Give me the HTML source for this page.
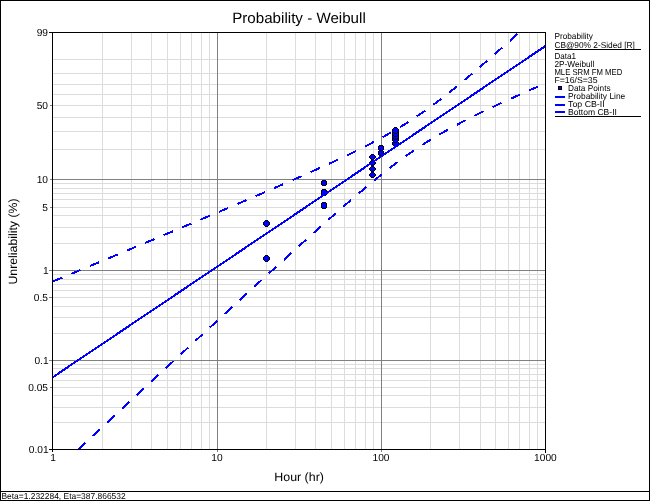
<!DOCTYPE html>
<html><head><meta charset="utf-8"><style>
html,body{margin:0;padding:0;background:#fff;width:650px;height:501px;overflow:hidden}
svg{display:block;will-change:transform}
text{font-family:"Liberation Sans",sans-serif;fill:#000;text-rendering:geometricPrecision}
</style></head><body>
<svg width="650" height="501" viewBox="0 0 650 501">
<path d="M102.5 33V449M131.5 33V449M151.5 33V449M167.5 33V449M180.5 33V449M191.5 33V449M201.5 33V449M209.5 33V449M266.5 33V449M295.5 33V449M315.5 33V449M331.5 33V449M344.5 33V449M355.5 33V449M365.5 33V449M373.5 33V449M430.5 33V449M459.5 33V449M480.5 33V449M495.5 33V449M508.5 33V449M519.5 33V449M529.5 33V449M537.5 33V449M53 59.5H545M53 73.5H545M53 84.5H545M53 94.5H545M53 105.5H545M53 117.5H545M53 131.5H545M53 149.5H545M53 183.5H545M53 188.5H545M53 193.5H545M53 199.5H545M53 207.5H545M53 215.5H545M53 227.5H545M53 243.5H545M53 274.5H545M53 279.5H545M53 284.5H545M53 290.5H545M53 297.5H545M53 306.5H545M53 317.5H545M53 333.5H545M53 364.5H545M53 368.5H545M53 374.5H545M53 380.5H545M53 387.5H545M53 395.5H545M53 407.5H545M53 422.5H545" stroke="#dcdcdc" stroke-width="1" fill="none"/>
<path d="M217.5 33V449M381.5 33V449M53 179.5H545M53 270.5H545M53 360.5H545" stroke="#808080" stroke-width="1" fill="none"/>
<path d="M49 32.5H546M49 449.5H546M52.5 32V452M545.5 32V453" stroke="#000" stroke-width="1" fill="none" shape-rendering="crispEdges"/>
<path d="M50 105.5H52M50 179.5H52M50 207.5H52M49 270.5H52M49 297.5H52M49 360.5H52M50 387.5H52M217.5 450V452M381.5 450V452" stroke="#808080" stroke-width="1" fill="none" shape-rendering="crispEdges"/>
<text x="48.00" y="36.3" text-anchor="end" font-size="10.2">99</text>
<text x="48.00" y="109.3" text-anchor="end" font-size="10.2">50</text>
<text x="48.00" y="183.3" text-anchor="end" font-size="10.2">10</text>
<text x="48.00" y="211.3" text-anchor="end" font-size="10.2">5</text>
<text x="48.60" y="274.3" text-anchor="end" font-size="10.2">1</text>
<text x="48.00" y="301.3" text-anchor="end" font-size="10.2">0.5</text>
<text x="48.60" y="364.3" text-anchor="end" font-size="10.2">0.1</text>
<text x="48.00" y="391.3" text-anchor="end" font-size="10.2">0.05</text>
<text x="48.60" y="453.3" text-anchor="end" font-size="10.2">0.01</text>
<text x="53.00" y="461" text-anchor="middle" font-size="10.2">1</text>
<text x="217.00" y="461" text-anchor="middle" font-size="10.2">10</text>
<text x="381.00" y="461" text-anchor="middle" font-size="10.2">100</text>
<text x="545.40" y="461" text-anchor="middle" font-size="10.2">1000</text>
<clipPath id="pc"><rect x="53" y="33" width="492" height="416"/></clipPath>
<g shape-rendering="crispEdges"><path fill="#000" d="M263 257h7v3h-7zM264 256h5v5h-5zM265 255h3v7h-3z"/><path fill="#0000ff" d="M264 257h5v3h-5zM265 256h3v5h-3z"/><path fill="#000" d="M263 222h7v3h-7zM264 221h5v5h-5zM265 220h3v7h-3z"/><path fill="#0000ff" d="M264 222h5v3h-5zM265 221h3v5h-3z"/><path fill="#000" d="M321 203h6v5h-6zM322 202h4v7h-4z"/><path fill="#0000ff" d="M322 203h4v5h-4z"/><path fill="#000" d="M321 190h6v5h-6zM322 189h4v7h-4z"/><path fill="#0000ff" d="M322 190h4v5h-4z"/><path fill="#000" d="M321 181h6v4h-6zM322 180h4v6h-4z"/><path fill="#0000ff" d="M322 181h4v4h-4z"/><path fill="#000" d="M369 174h7v2h-7zM370 173h5v4h-5zM371 172h3v6h-3z"/><path fill="#0000ff" d="M370 174h5v2h-5zM371 173h3v4h-3z"/><path fill="#000" d="M369 168h7v2h-7zM370 167h5v4h-5zM371 166h3v6h-3z"/><path fill="#0000ff" d="M370 168h5v2h-5zM371 167h3v4h-3z"/><path fill="#000" d="M369 162h7v2h-7zM370 161h5v4h-5zM371 160h3v6h-3z"/><path fill="#0000ff" d="M370 162h5v2h-5zM371 161h3v4h-3z"/><path fill="#000" d="M369 156h7v2h-7zM370 155h5v4h-5zM371 154h3v6h-3z"/><path fill="#0000ff" d="M370 156h5v2h-5zM371 155h3v4h-3z"/><path fill="#000" d="M378 151h6v4h-6zM379 150h4v6h-4z"/><path fill="#0000ff" d="M379 151h4v4h-4z"/><path fill="#000" d="M378 146h6v4h-6zM379 145h4v6h-4z"/><path fill="#0000ff" d="M379 146h4v4h-4z"/><path fill="#000" d="M392 142h7v3h-7zM393 141h5v5h-5zM394 140h3v7h-3z"/><path fill="#0000ff" d="M393 142h5v3h-5zM394 141h3v5h-3z"/><path fill="#000" d="M392 138h7v3h-7zM393 137h5v5h-5zM394 136h3v7h-3z"/><path fill="#0000ff" d="M393 138h5v3h-5zM394 137h3v5h-3z"/><path fill="#000" d="M392 135h7v3h-7zM393 134h5v5h-5zM394 133h3v7h-3z"/><path fill="#0000ff" d="M393 135h5v3h-5zM394 134h3v5h-3z"/><path fill="#000" d="M392 132h7v3h-7zM393 131h5v5h-5zM394 130h3v7h-3z"/><path fill="#0000ff" d="M393 132h5v3h-5zM394 131h3v5h-3z"/><path fill="#000" d="M392 129h7v3h-7zM393 128h5v5h-5zM394 127h3v7h-3z"/><path fill="#0000ff" d="M393 129h5v3h-5zM394 128h3v5h-3z"/></g>
<g clip-path="url(#pc)" fill="none" stroke="#0000ff" stroke-width="2" shape-rendering="crispEdges">
<path d="M52.31 377.53 L545.50 45.96"/>
<path d="M52.31 281.70 L53.31 281.29 L54.31 280.87 L55.31 280.45 L56.31 280.04 L57.31 279.62 L58.31 279.20 L59.31 278.79 L60.31 278.37 L61.31 277.96 L62.31 277.54 L63.31 277.12 L64.31 276.71 L65.31 276.29 L66.31 275.87 L67.31 275.46 L68.31 275.04 L69.31 274.62 L70.31 274.21 L71.31 273.79 L72.31 273.37 L73.31 272.96 L74.31 272.54 L75.31 272.12 L76.31 271.71 L77.31 271.29 L78.31 270.87 L79.31 270.46 L80.31 270.04 L81.31 269.62 L82.31 269.21 L83.31 268.79 L84.31 268.37 L85.31 267.95 L86.31 267.54 L87.31 267.12 L88.31 266.70 L89.31 266.29 L90.31 265.87 L91.31 265.45 L92.31 265.03 L93.31 264.62 L94.31 264.20 L95.31 263.78 L96.31 263.37 L97.31 262.95 L98.31 262.53 L99.31 262.11 L100.31 261.70 L101.31 261.28 L102.31 260.86 L103.31 260.44 L104.31 260.03 L105.31 259.61 L106.31 259.19 L107.31 258.77 L108.31 258.36 L109.31 257.94 L110.31 257.52 L111.31 257.10 L112.31 256.68 L113.31 256.27 L114.31 255.85 L115.31 255.43 L116.31 255.01 L117.31 254.60 L118.31 254.18 L119.31 253.76 L120.31 253.34 L121.31 252.92 L122.31 252.51 L123.31 252.09 L124.31 251.67 L125.31 251.25 L126.31 250.83 L127.31 250.41 L128.31 250.00 L129.31 249.58 L130.31 249.16 L131.31 248.74 L132.31 248.32 L133.31 247.90 L134.31 247.48 L135.31 247.07 L136.31 246.65 L137.31 246.23 L138.31 245.81 L139.31 245.39 L140.31 244.97 L141.31 244.55 L142.31 244.13 L143.31 243.72 L144.31 243.30 L145.31 242.88 L146.31 242.46 L147.31 242.04 L148.31 241.62 L149.31 241.20 L150.31 240.78 L151.31 240.36 L152.31 239.94 L153.31 239.52 L154.31 239.10 L155.31 238.68 L156.31 238.26 L157.31 237.84 L158.31 237.42 L159.31 237.01 L160.31 236.59 L161.31 236.17 L162.31 235.75 L163.31 235.33 L164.31 234.91 L165.31 234.49 L166.31 234.07 L167.31 233.64 L168.31 233.22 L169.31 232.80 L170.31 232.38 L171.31 231.96 L172.31 231.54 L173.31 231.12 L174.31 230.70 L175.31 230.28 L176.31 229.86 L177.31 229.44 L178.31 229.02 L179.31 228.60 L180.31 228.18 L181.31 227.76 L182.31 227.33 L183.31 226.91 L184.31 226.49 L185.31 226.07 L186.31 225.65 L187.31 225.23 L188.31 224.81 L189.31 224.38 L190.31 223.96 L191.31 223.54 L192.31 223.12 L193.31 222.70 L194.31 222.27 L195.31 221.85 L196.31 221.43 L197.31 221.01 L198.31 220.58 L199.31 220.16 L200.31 219.74 L201.31 219.32 L202.31 218.89 L203.31 218.47 L204.31 218.05 L205.31 217.63 L206.31 217.20 L207.31 216.78 L208.31 216.36 L209.31 215.93 L210.31 215.51 L211.31 215.09 L212.31 214.66 L213.31 214.24 L214.31 213.81 L215.31 213.39 L216.31 212.97 L217.31 212.54 L218.31 212.12 L219.31 211.69 L220.31 211.27 L221.31 210.84 L222.31 210.42 L223.31 209.99 L224.31 209.57 L225.31 209.14 L226.31 208.72 L227.31 208.29 L228.31 207.87 L229.31 207.44 L230.31 207.02 L231.31 206.59 L232.31 206.16 L233.31 205.74 L234.31 205.31 L235.31 204.88 L236.31 204.46 L237.31 204.03 L238.31 203.60 L239.31 203.18 L240.31 202.75 L241.31 202.32 L242.31 201.89 L243.31 201.47 L244.31 201.04 L245.31 200.61 L246.31 200.18 L247.31 199.75 L248.31 199.33 L249.31 198.90 L250.31 198.47 L251.31 198.04 L252.31 197.61 L253.31 197.18 L254.31 196.75 L255.31 196.32 L256.31 195.89 L257.31 195.46 L258.31 195.03 L259.31 194.60 L260.31 194.17 L261.31 193.74 L262.31 193.31 L263.31 192.88 L264.31 192.44 L265.31 192.01 L266.31 191.58 L267.31 191.15 L268.31 190.72 L269.31 190.28 L270.31 189.85 L271.31 189.42 L272.31 188.98 L273.31 188.55 L274.31 188.11 L275.31 187.68 L276.31 187.25 L277.31 186.81 L278.31 186.38 L279.31 185.94 L280.31 185.50 L281.31 185.07 L282.31 184.63 L283.31 184.19 L284.31 183.76 L285.31 183.32 L286.31 182.88 L287.31 182.44 L288.31 182.01 L289.31 181.57 L290.31 181.13 L291.31 180.69 L292.31 180.25 L293.31 179.81 L294.31 179.37 L295.31 178.93 L296.31 178.49 L297.31 178.04 L298.31 177.60 L299.31 177.16 L300.31 176.72 L301.31 176.27 L302.31 175.83 L303.31 175.39 L304.31 174.94 L305.31 174.50 L306.31 174.05 L307.31 173.60 L308.31 173.16 L309.31 172.71 L310.31 172.26 L311.31 171.81 L312.31 171.36 L313.31 170.91 L314.31 170.46 L315.31 170.01 L316.31 169.56 L317.31 169.11 L318.31 168.66 L319.31 168.21 L320.31 167.75 L321.31 167.30 L322.31 166.84 L323.31 166.39 L324.31 165.93 L325.31 165.47 L326.31 165.01 L327.31 164.56 L328.31 164.10 L329.31 163.64 L330.31 163.17 L331.31 162.71 L332.31 162.25 L333.31 161.79 L334.31 161.32 L335.31 160.86 L336.31 160.39 L337.31 159.92 L338.31 159.45 L339.31 158.98 L340.31 158.51 L341.31 158.04 L342.31 157.57 L343.31 157.09 L344.31 156.62 L345.31 156.14 L346.31 155.67 L347.31 155.19 L348.31 154.71 L349.31 154.23 L350.31 153.74 L351.31 153.26 L352.31 152.78 L353.31 152.29 L354.31 151.80 L355.31 151.31 L356.31 150.82 L357.31 150.33 L358.31 149.83 L359.31 149.34 L360.31 148.84 L361.31 148.34 L362.31 147.84 L363.31 147.34 L364.31 146.83 L365.31 146.33 L366.31 145.82 L367.31 145.31 L368.31 144.79 L369.31 144.28 L370.31 143.76 L371.31 143.24 L372.31 142.72 L373.31 142.20 L374.31 141.67 L375.31 141.15 L376.31 140.62 L377.31 140.08 L378.31 139.55 L379.31 139.01 L380.31 138.47 L381.31 137.92 L382.31 137.38 L383.31 136.83 L384.31 136.28 L385.31 135.72 L386.31 135.16 L387.31 134.60 L388.31 134.04 L389.31 133.47 L390.31 132.90 L391.31 132.33 L392.31 131.75 L393.31 131.17 L394.31 130.58 L395.31 130.00 L396.31 129.40 L397.31 128.81 L398.31 128.21 L399.31 127.61 L400.31 127.00 L401.31 126.39 L402.31 125.78 L403.31 125.16 L404.31 124.54 L405.31 123.91 L406.31 123.28 L407.31 122.65 L408.31 122.01 L409.31 121.37 L410.31 120.72 L411.31 120.07 L412.31 119.42 L413.31 118.76 L414.31 118.10 L415.31 117.43 L416.31 116.76 L417.31 116.08 L418.31 115.40 L419.31 114.72 L420.31 114.03 L421.31 113.34 L422.31 112.64 L423.31 111.94 L424.31 111.24 L425.31 110.53 L426.31 109.82 L427.31 109.10 L428.31 108.38 L429.31 107.65 L430.31 106.93 L431.31 106.19 L432.31 105.46 L433.31 104.72 L434.31 103.97 L435.31 103.23 L436.31 102.47 L437.31 101.72 L438.31 100.96 L439.31 100.20 L440.31 99.43 L441.31 98.67 L442.31 97.89 L443.31 97.12 L444.31 96.34 L445.31 95.56 L446.31 94.77 L447.31 93.98 L448.31 93.19 L449.31 92.40 L450.31 91.60 L451.31 90.80 L452.31 90.00 L453.31 89.20 L454.31 88.39 L455.31 87.58 L456.31 86.77 L457.31 85.95 L458.31 85.13 L459.31 84.31 L460.31 83.49 L461.31 82.67 L462.31 81.84 L463.31 81.01 L464.31 80.18 L465.31 79.35 L466.31 78.51 L467.31 77.67 L468.31 76.84 L469.31 76.00 L470.31 75.15 L471.31 74.31 L472.31 73.46 L473.31 72.61 L474.31 71.76 L475.31 70.91 L476.31 70.06 L477.31 69.21 L478.31 68.35 L479.31 67.49 L480.31 66.63 L481.31 65.77 L482.31 64.91 L483.31 64.05 L484.31 63.19 L485.31 62.32 L486.31 61.45 L487.31 60.59 L488.31 59.72 L489.31 58.85 L490.31 57.98 L491.31 57.10 L492.31 56.23 L493.31 55.36 L494.31 54.48 L495.31 53.60 L496.31 52.73 L497.31 51.85 L498.31 50.97 L499.31 50.09 L500.31 49.21 L501.31 48.32 L502.31 47.44 L503.31 46.56 L504.31 45.67 L505.31 44.79 L506.31 43.90 L507.31 43.01 L508.31 42.13 L509.31 41.24 L510.31 40.35 L511.31 39.46 L512.31 38.57 L513.31 37.68 L514.31 36.79 L515.31 35.89 L516.31 35.00 L517.31 34.11 L518.31 33.21 L519.31 32.32 L520.31 31.42 L521.31 30.53 L522.31 29.63 L523.31 28.73 L524.31 27.84 L525.31 26.94 L526.31 26.04 L527.31 25.14 L528.31 24.24 L529.31 23.34 L530.31 22.44 L531.31 21.54 L532.31 20.64 L533.31 19.74 L534.31 18.83 L535.31 17.93 L536.31 17.03 L537.31 16.12 L538.31 15.22 L539.31 14.32 L540.31 13.41 L541.31 12.51 L542.31 11.60 L543.31 10.70 L544.31 9.79 L545.31 8.88" stroke-dasharray="10 10" stroke-dashoffset="-0.67"/>
<path d="M52.31 473.36 L53.31 472.43 L54.31 471.50 L55.31 470.57 L56.31 469.64 L57.31 468.72 L58.31 467.79 L59.31 466.86 L60.31 465.93 L61.31 465.00 L62.31 464.08 L63.31 463.15 L64.31 462.22 L65.31 461.29 L66.31 460.36 L67.31 459.44 L68.31 458.51 L69.31 457.58 L70.31 456.65 L71.31 455.72 L72.31 454.80 L73.31 453.87 L74.31 452.94 L75.31 452.01 L76.31 451.08 L77.31 450.16 L78.31 449.23 L79.31 448.30 L80.31 447.37 L81.31 446.45 L82.31 445.52 L83.31 444.59 L84.31 443.66 L85.31 442.73 L86.31 441.81 L87.31 440.88 L88.31 439.95 L89.31 439.02 L90.31 438.10 L91.31 437.17 L92.31 436.24 L93.31 435.32 L94.31 434.39 L95.31 433.46 L96.31 432.53 L97.31 431.61 L98.31 430.68 L99.31 429.75 L100.31 428.82 L101.31 427.90 L102.31 426.97 L103.31 426.04 L104.31 425.12 L105.31 424.19 L106.31 423.26 L107.31 422.33 L108.31 421.41 L109.31 420.48 L110.31 419.55 L111.31 418.63 L112.31 417.70 L113.31 416.77 L114.31 415.85 L115.31 414.92 L116.31 413.99 L117.31 413.07 L118.31 412.14 L119.31 411.21 L120.31 410.29 L121.31 409.36 L122.31 408.43 L123.31 407.51 L124.31 406.58 L125.31 405.66 L126.31 404.73 L127.31 403.80 L128.31 402.88 L129.31 401.95 L130.31 401.02 L131.31 400.10 L132.31 399.17 L133.31 398.25 L134.31 397.32 L135.31 396.39 L136.31 395.47 L137.31 394.54 L138.31 393.62 L139.31 392.69 L140.31 391.76 L141.31 390.84 L142.31 389.91 L143.31 388.99 L144.31 388.06 L145.31 387.14 L146.31 386.21 L147.31 385.29 L148.31 384.36 L149.31 383.44 L150.31 382.51 L151.31 381.58 L152.31 380.66 L153.31 379.73 L154.31 378.81 L155.31 377.88 L156.31 376.96 L157.31 376.03 L158.31 375.11 L159.31 374.18 L160.31 373.26 L161.31 372.34 L162.31 371.41 L163.31 370.49 L164.31 369.56 L165.31 368.64 L166.31 367.71 L167.31 366.79 L168.31 365.86 L169.31 364.94 L170.31 364.02 L171.31 363.09 L172.31 362.17 L173.31 361.24 L174.31 360.32 L175.31 359.40 L176.31 358.47 L177.31 357.55 L178.31 356.62 L179.31 355.70 L180.31 354.78 L181.31 353.85 L182.31 352.93 L183.31 352.01 L184.31 351.08 L185.31 350.16 L186.31 349.24 L187.31 348.31 L188.31 347.39 L189.31 346.47 L190.31 345.55 L191.31 344.62 L192.31 343.70 L193.31 342.78 L194.31 341.86 L195.31 340.93 L196.31 340.01 L197.31 339.09 L198.31 338.17 L199.31 337.24 L200.31 336.32 L201.31 335.40 L202.31 334.48 L203.31 333.56 L204.31 332.63 L205.31 331.71 L206.31 330.79 L207.31 329.87 L208.31 328.95 L209.31 328.03 L210.31 327.11 L211.31 326.19 L212.31 325.27 L213.31 324.34 L214.31 323.42 L215.31 322.50 L216.31 321.58 L217.31 320.66 L218.31 319.74 L219.31 318.82 L220.31 317.90 L221.31 316.98 L222.31 316.06 L223.31 315.14 L224.31 314.22 L225.31 313.30 L226.31 312.38 L227.31 311.47 L228.31 310.55 L229.31 309.63 L230.31 308.71 L231.31 307.79 L232.31 306.87 L233.31 305.95 L234.31 305.03 L235.31 304.12 L236.31 303.20 L237.31 302.28 L238.31 301.36 L239.31 300.45 L240.31 299.53 L241.31 298.61 L242.31 297.69 L243.31 296.78 L244.31 295.86 L245.31 294.94 L246.31 294.03 L247.31 293.11 L248.31 292.20 L249.31 291.28 L250.31 290.36 L251.31 289.45 L252.31 288.53 L253.31 287.62 L254.31 286.70 L255.31 285.79 L256.31 284.87 L257.31 283.96 L258.31 283.04 L259.31 282.13 L260.31 281.22 L261.31 280.30 L262.31 279.39 L263.31 278.48 L264.31 277.56 L265.31 276.65 L266.31 275.74 L267.31 274.83 L268.31 273.91 L269.31 273.00 L270.31 272.09 L271.31 271.18 L272.31 270.27 L273.31 269.36 L274.31 268.45 L275.31 267.54 L276.31 266.63 L277.31 265.72 L278.31 264.81 L279.31 263.90 L280.31 262.99 L281.31 262.08 L282.31 261.17 L283.31 260.27 L284.31 259.36 L285.31 258.45 L286.31 257.54 L287.31 256.64 L288.31 255.73 L289.31 254.83 L290.31 253.92 L291.31 253.02 L292.31 252.11 L293.31 251.21 L294.31 250.30 L295.31 249.40 L296.31 248.49 L297.31 247.59 L298.31 246.69 L299.31 245.79 L300.31 244.89 L301.31 243.98 L302.31 243.08 L303.31 242.18 L304.31 241.28 L305.31 240.38 L306.31 239.49 L307.31 238.59 L308.31 237.69 L309.31 236.79 L310.31 235.90 L311.31 235.00 L312.31 234.10 L313.31 233.21 L314.31 232.31 L315.31 231.42 L316.31 230.53 L317.31 229.63 L318.31 228.74 L319.31 227.85 L320.31 226.96 L321.31 226.07 L322.31 225.18 L323.31 224.29 L324.31 223.40 L325.31 222.52 L326.31 221.63 L327.31 220.74 L328.31 219.86 L329.31 218.97 L330.31 218.09 L331.31 217.21 L332.31 216.33 L333.31 215.45 L334.31 214.57 L335.31 213.69 L336.31 212.81 L337.31 211.93 L338.31 211.06 L339.31 210.18 L340.31 209.31 L341.31 208.43 L342.31 207.56 L343.31 206.69 L344.31 205.82 L345.31 204.95 L346.31 204.09 L347.31 203.22 L348.31 202.35 L349.31 201.49 L350.31 200.63 L351.31 199.77 L352.31 198.91 L353.31 198.05 L354.31 197.19 L355.31 196.34 L356.31 195.49 L357.31 194.63 L358.31 193.78 L359.31 192.93 L360.31 192.09 L361.31 191.24 L362.31 190.40 L363.31 189.56 L364.31 188.72 L365.31 187.88 L366.31 187.04 L367.31 186.21 L368.31 185.38 L369.31 184.55 L370.31 183.72 L371.31 182.89 L372.31 182.07 L373.31 181.25 L374.31 180.43 L375.31 179.61 L376.31 178.80 L377.31 177.99 L378.31 177.18 L379.31 176.37 L380.31 175.57 L381.31 174.77 L382.31 173.97 L383.31 173.17 L384.31 172.38 L385.31 171.59 L386.31 170.81 L387.31 170.02 L388.31 169.24 L389.31 168.46 L390.31 167.69 L391.31 166.92 L392.31 166.15 L393.31 165.39 L394.31 164.63 L395.31 163.87 L396.31 163.12 L397.31 162.37 L398.31 161.62 L399.31 160.88 L400.31 160.14 L401.31 159.41 L402.31 158.68 L403.31 157.95 L404.31 157.23 L405.31 156.51 L406.31 155.79 L407.31 155.08 L408.31 154.38 L409.31 153.67 L410.31 152.98 L411.31 152.28 L412.31 151.59 L413.31 150.91 L414.31 150.22 L415.31 149.55 L416.31 148.87 L417.31 148.20 L418.31 147.54 L419.31 146.88 L420.31 146.22 L421.31 145.57 L422.31 144.92 L423.31 144.28 L424.31 143.64 L425.31 143.00 L426.31 142.37 L427.31 141.74 L428.31 141.12 L429.31 140.50 L430.31 139.88 L431.31 139.27 L432.31 138.66 L433.31 138.06 L434.31 137.46 L435.31 136.86 L436.31 136.26 L437.31 135.68 L438.31 135.09 L439.31 134.51 L440.31 133.93 L441.31 133.35 L442.31 132.78 L443.31 132.21 L444.31 131.64 L445.31 131.08 L446.31 130.52 L447.31 129.96 L448.31 129.41 L449.31 128.86 L450.31 128.31 L451.31 127.77 L452.31 127.22 L453.31 126.68 L454.31 126.15 L455.31 125.61 L456.31 125.08 L457.31 124.55 L458.31 124.03 L459.31 123.50 L460.31 122.98 L461.31 122.46 L462.31 121.94 L463.31 121.42 L464.31 120.91 L465.31 120.40 L466.31 119.89 L467.31 119.38 L468.31 118.88 L469.31 118.37 L470.31 117.87 L471.31 117.37 L472.31 116.87 L473.31 116.38 L474.31 115.88 L475.31 115.39 L476.31 114.90 L477.31 114.41 L478.31 113.92 L479.31 113.43 L480.31 112.94 L481.31 112.46 L482.31 111.98 L483.31 111.49 L484.31 111.01 L485.31 110.53 L486.31 110.06 L487.31 109.58 L488.31 109.10 L489.31 108.63 L490.31 108.16 L491.31 107.68 L492.31 107.21 L493.31 106.74 L494.31 106.27 L495.31 105.81 L496.31 105.34 L497.31 104.87 L498.31 104.41 L499.31 103.94 L500.31 103.48 L501.31 103.02 L502.31 102.56 L503.31 102.09 L504.31 101.63 L505.31 101.18 L506.31 100.72 L507.31 100.26 L508.31 99.80 L509.31 99.35 L510.31 98.89 L511.31 98.44 L512.31 97.98 L513.31 97.53 L514.31 97.08 L515.31 96.62 L516.31 96.17 L517.31 95.72 L518.31 95.27 L519.31 94.82 L520.31 94.37 L521.31 93.92 L522.31 93.47 L523.31 93.03 L524.31 92.58 L525.31 92.13 L526.31 91.69 L527.31 91.24 L528.31 90.80 L529.31 90.35 L530.31 89.91 L531.31 89.46 L532.31 89.02 L533.31 88.58 L534.31 88.14 L535.31 87.69 L536.31 87.25 L537.31 86.81 L538.31 86.37 L539.31 85.93 L540.31 85.49 L541.31 85.05 L542.31 84.61 L543.31 84.17 L544.31 83.73 L545.31 83.30" stroke-dasharray="10 10" stroke-dashoffset="-14.95"/>
</g>
<text x="554.4" y="39" font-size="8.6" textLength="38.6" lengthAdjust="spacingAndGlyphs">Probability</text>
<text x="554.4" y="48" font-size="8.6" textLength="80.5" lengthAdjust="spacingAndGlyphs">CB@90% 2-Sided [R]</text>
<path d="M555 49.5H641M555 116.5H641" stroke="#000" stroke-width="1"/>
<text x="554.4" y="59" font-size="8.6" textLength="21.599999999999998" lengthAdjust="spacingAndGlyphs">Data1</text>
<text x="554.4" y="67" font-size="8.6" textLength="39.9" lengthAdjust="spacingAndGlyphs">2P-Weibull</text>
<text x="554.4" y="75" font-size="8.6" textLength="67.9" lengthAdjust="spacingAndGlyphs">MLE SRM FM MED</text>
<text x="554.4" y="83" font-size="8.6" textLength="43.1" lengthAdjust="spacingAndGlyphs">F=16/S=35</text>
<rect x="558.5" y="86.5" width="3" height="3" fill="#0000ff" stroke="#000" stroke-width="1"/>
<text x="568" y="91" font-size="8.6" textLength="42.6" lengthAdjust="spacingAndGlyphs">Data Points</text>
<path d="M555 97H565M555 105H565M555 112H565" stroke="#0000ff" stroke-width="2"/>
<text x="568" y="99" font-size="8.6" textLength="57.199999999999996" lengthAdjust="spacingAndGlyphs">Probability Line</text>
<text x="568" y="107" font-size="8.6" textLength="36.699999999999996" lengthAdjust="spacingAndGlyphs">Top CB-II</text>
<text x="568" y="115" font-size="8.6" textLength="48.9" lengthAdjust="spacingAndGlyphs">Bottom CB-II</text>
<text x="232.2" y="23" font-size="15" textLength="133.6" lengthAdjust="spacingAndGlyphs">Probability - Weibull</text>
<text x="274.3" y="481" font-size="12" textLength="49.6" lengthAdjust="spacingAndGlyphs">Hour (hr)</text>
<text transform="translate(17.0 284.6) rotate(-90)" font-size="12" textLength="86.2" lengthAdjust="spacingAndGlyphs">Unreliability (%)</text>
<rect x="0.5" y="0.5" width="649" height="500" fill="none" stroke="#000" stroke-width="1"/>
<path d="M0 491.5H650" stroke="#000" stroke-width="1"/>
<text x="1.4" y="499" font-size="8.6" textLength="124.3" lengthAdjust="spacingAndGlyphs">Beta=1.232284, Eta=387.866532</text>
</svg>
</body></html>
